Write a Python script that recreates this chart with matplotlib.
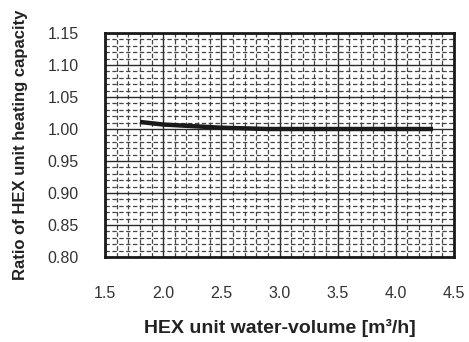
import numpy as np
import matplotlib.pyplot as plt
from matplotlib.ticker import MultipleLocator

# data
water_volume = [1.8, 2.0, 2.5, 2.9, 3.5, 4.0, 4.32]
capacity_ratio = [1.011, 1.007, 1.002, 1.000, 1.000, 1.000, 1.000]

x_ticks = [1.5, 2.0, 2.5, 3.0, 3.5, 4.0, 4.5]
y_ticks = [0.80, 0.85, 0.90, 0.95, 1.00, 1.05, 1.10, 1.15]

plt.rcParams['font.family'] = ['Liberation Sans', 'DejaVu Sans']

fig = plt.figure(figsize=(4.69, 3.42), dpi=100)
ax = fig.add_axes([105/469, 1-257/342, 349/469, 224/342])

ax.plot(water_volume, capacity_ratio, color='#1a1a1a', linewidth=3.2, solid_capstyle='butt', zorder=5)

ax.set_xlim(1.5, 4.5)
ax.set_ylim(0.80, 1.15)
ax.set_xticks(x_ticks)
ax.set_yticks(y_ticks)
ax.set_xticklabels(['%.1f' % v for v in x_ticks])
ax.set_yticklabels(['%.2f' % v for v in y_ticks])
ax.xaxis.set_minor_locator(MultipleLocator(0.1))
ax.yaxis.set_minor_locator(MultipleLocator(0.01))

ax.grid(which='major', color='#2a2a2a', linewidth=1.0, linestyle='-')
ax.grid(which='minor', color='#444444', linewidth=0.9, linestyle=(0, (3.5, 2)))
ax.set_axisbelow(True)

ax.tick_params(which='both', length=0)
ax.tick_params(axis='x', pad=21, labelsize=11.5, labelcolor='#333333')
ax.tick_params(axis='y', pad=19, labelsize=11.5, labelcolor='#333333')

for s in ax.spines.values():
    s.set_linewidth(2)
    s.set_color('#1a1a1a')

ax.set_xlabel('HEX unit water-volume [m³/h]', fontsize=14, fontweight='bold', color='#222222', labelpad=13)
ax.set_ylabel('Ratio of HEX unit heating capacity', fontsize=12, fontweight='bold', color='#222222', labelpad=14)

plt.savefig('out.png', dpi=100)
